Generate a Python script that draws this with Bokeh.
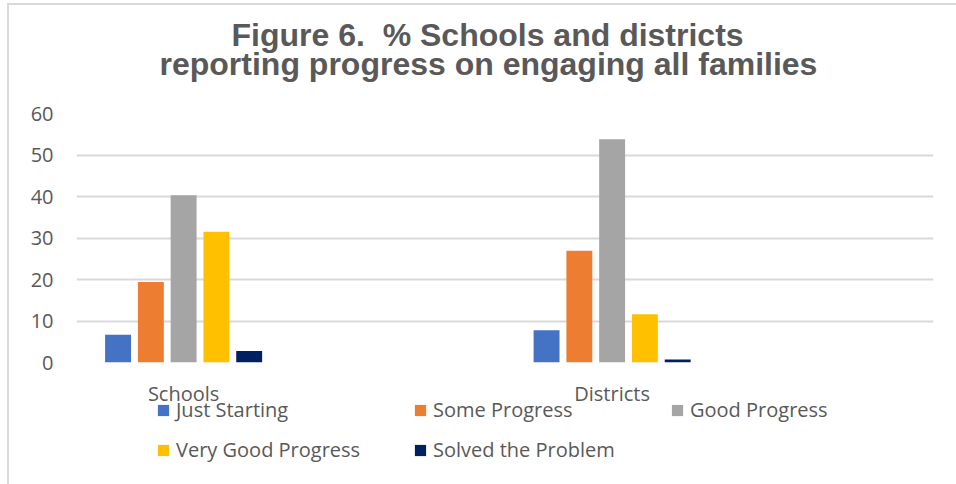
from bokeh.plotting import figure
from bokeh.layouts import column
from bokeh.models import (ColumnDataSource, FactorRange, Range1d, FixedTicker,
                          Legend, LegendItem, Label)
from bokeh.transform import dodge
from bokeh.embed import file_html
from bokeh.resources import INLINE

# ---- data ----
categories = ["Schools", "Districts"]
series_names = ["Just Starting", "Some Progress", "Good Progress",
                "Very Good Progress", "Solved the Problem"]
just_starting = [6.7, 7.8]
some_progress = [19.4, 26.9]
good_progress = [40.3, 53.8]
very_good_progress = [31.5, 11.6]
solved_problem = [2.8, 0.7]
series_colors = ["#4472C4", "#ED7D31", "#A5A5A5", "#FFC000", "#002060"]
y_ticks = [0, 10, 20, 30, 40, 50, 60]
title_lines = ["Figure 6.\u00a0 % Schools and districts",
               "reporting progress on engaging all families"]

factors = ["Schools", " ", "Districts", "  "]
series_values = [just_starting, some_progress, good_progress, very_good_progress, solved_problem]
cols = ["s0", "s1", "s2", "s3", "s4"]
data = {"cat": categories}
for c, v in zip(cols, series_values):
    data[c] = v
source = ColumnDataSource(data)

TXT = "#595959"
FONT = "Open Sans"
x_range = FactorRange(*factors)


def blank(fig):
    fig.outline_line_color = None
    fig.background_fill_color = "white"
    fig.border_fill_color = "white"
    fig.xgrid.grid_line_color = None
    fig.ygrid.grid_line_color = None


# ---------------- title strip ----------------
pt = figure(x_range=Range1d(0, 1), y_range=Range1d(0, 1), width=947, height=96,
            output_backend="svg", toolbar_location=None,
            x_axis_location=None, y_axis_location=None,
            min_border_left=0, min_border_right=0, min_border_top=0, min_border_bottom=0)
blank(pt)
for txt, sx, sy in [(title_lines[0], 155, 67), (title_lines[1], 83, 38)]:
    pt.add_layout(Label(x=sx, y=sy, x_units="screen", y_units="screen", text=txt,
                        text_align="left", text_baseline="alphabetic",
                        text_font="Liberation Sans", text_font_size="32px",
                        text_font_style="bold", text_color=TXT))

# ---------------- main chart ----------------
p = figure(x_range=x_range, y_range=Range1d(0, 60),
           width=947, height=275, output_backend="svg", toolbar_location=None,
           min_border_left=67, min_border_right=23, min_border_top=12,
           min_border_bottom=14)
blank(p)

offsets = [-0.306, -0.153, 0.0, 0.153, 0.306]
for c, off, col in zip(cols, offsets, series_colors):
    p.vbar(x=dodge("cat", off, range=x_range), top=c, width=0.121,
           source=source, fill_color=col, line_color=None)

p.ygrid.grid_line_color = "#d9d9d9"
p.ygrid.grid_line_width = 2
p.yaxis.ticker = FixedTicker(ticks=y_ticks)
p.yaxis.axis_line_color = None
p.yaxis.major_tick_line_color = None
p.yaxis.minor_tick_line_color = None
p.yaxis.major_tick_out = 0
p.yaxis.major_label_standoff = 23
p.yaxis.major_label_text_font = FONT
p.yaxis.major_label_text_font_size = "20px"
p.yaxis.major_label_text_color = TXT
p.xaxis.visible = False

# ---------------- category labels + legend ----------------
p2 = figure(x_range=x_range, y_range=Range1d(0, 1),
            width=947, height=108, output_backend="svg", toolbar_location=None,
            x_axis_location="above", y_axis_location=None,
            min_border_left=67, min_border_right=23, min_border_top=14,
            min_border_bottom=0)
blank(p2)
p2.xaxis.axis_line_color = None
p2.xaxis.major_tick_line_color = None
p2.xaxis.major_tick_out = 0
p2.xaxis.major_tick_in = 0
p2.xaxis.major_label_standoff = -12
p2.xaxis.major_label_text_font = FONT
p2.xaxis.major_label_text_font_size = "20px"
p2.xaxis.major_label_text_color = TXT

# legend swatches: bars kept below the visible range of this strip
swatch = ColumnDataSource(dict(cat=["Schools"], top=[-2], bottom=[-3]))
legend_renderers = [p2.vbar(x="cat", top="top", bottom="bottom", width=0.1,
                            source=swatch, fill_color=col, line_color=None)
                    for col in series_colors]

legend = Legend(items=[LegendItem(label=n, renderers=[r])
                       for n, r in zip(series_names, legend_renderers)],
                ncols=3, orientation="horizontal", location=(80, 21),
                glyph_width=14, glyph_height=14, label_standoff=6,
                label_width=224, label_height=27, spacing=13,
                padding=0, margin=0, border_line_color=None,
                background_fill_alpha=0,
                label_text_font=FONT, label_text_font_size="20px",
                label_text_color=TXT)
p2.add_layout(legend, "center")

layout = column(pt, p, p2, spacing=0)
layout.styles = {"border-left": "2px solid #d9d9d9", "border-top": "2px solid #d9d9d9"}
layout.margin = (3, 0, 0, 7)

open("out.html", "w").write(file_html(layout, INLINE))
